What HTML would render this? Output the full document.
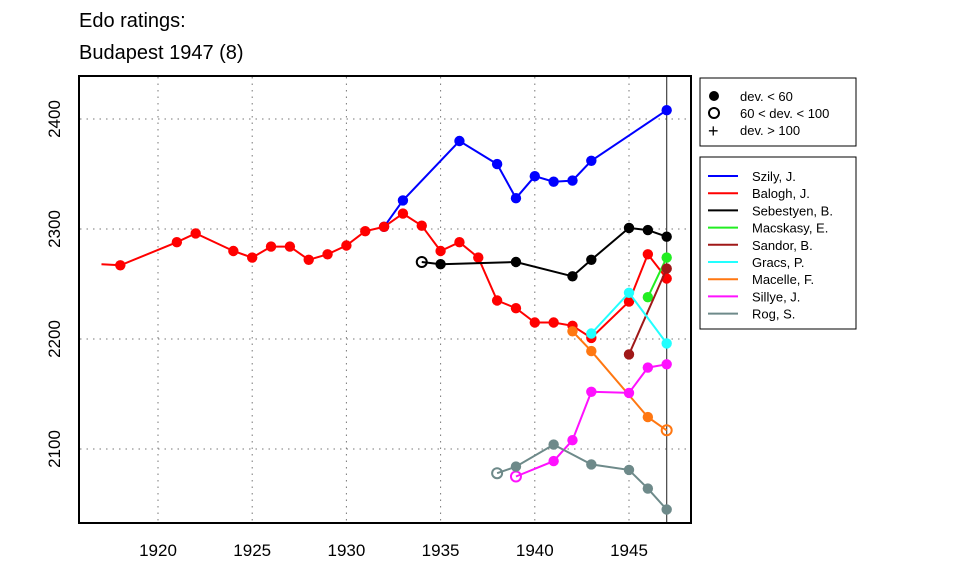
<!DOCTYPE html>
<html><head><meta charset="utf-8"><style>body{margin:0;background:#fff}svg{display:block}text{font-family:"Liberation Sans",sans-serif}</style></head>
<body>
<svg id="c" width="960" height="576">
<text x="79" y="27" font-size="20">Edo ratings:</text>
<text x="79" y="59" font-size="20">Budapest 1947 (8)</text>
<g id="grid"></g><g id="axes"></g><g id="series"></g>
<rect x="79" y="76" width="612" height="447" fill="none" stroke="#000" stroke-width="2"/>
<g>
<rect x="700" y="78" width="156" height="68" fill="#fff" stroke="#000"/>
<circle cx="714" cy="96" r="5" fill="#000"/><text x="740" y="101" font-size="13">dev. &lt; 60</text>
<circle cx="714" cy="113" r="5" fill="none" stroke="#000" stroke-width="2"/><text x="740" y="118" font-size="13">60 &lt; dev. &lt; 100</text>
<text x="708" y="137" font-size="18">+</text><text x="740" y="135" font-size="13">dev. &gt; 100</text>
</g>
<g id="legend"><rect x="700" y="157" width="156" height="172" fill="#fff" stroke="#000"/></g>
</svg>
<script>
const years=[1920,1925,1930,1935,1940,1945];
const yTicks=[2100,2200,2300,2400];
const names=["Szily, J.","Balogh, J.","Sebestyen, B.","Macskasy, E.","Sandor, B.","Gracs, P.","Macelle, F.","Sillye, J.","Rog, S."];
const colors=["#0000ff","#ff0000","#000000","#22ee22","#a01818","#22ffff","#ff7711","#ff11ff","#6e8a8a"];
const szilyX=[1932,1933,1936,1938,1939,1940,1941,1942,1943,1947];
const szilyY=[2302,2326,2380,2359,2328,2348,2343,2344,2362,2408];
const baloghX=[1917,1918,1921,1922,1924,1925,1926,1927,1928,1929,1930,1931,1932,1933,1934,1935,1936,1937,1938,1939,1940,1941,1942,1943,1945,1946,1947];
const baloghY=[2268,2267,2288,2296,2280,2274,2284,2284,2272,2277,2285,2298,2302,2314,2303,2280,2288,2274,2235,2228,2215,2215,2212,2201,2234,2277,2255];
const sebX=[1934,1935,1939,1942,1943,1945,1946,1947];
const sebY=[2270,2268,2270,2257,2272,2301,2299,2293];
const macsX=[1946,1947], macsY=[2238,2274];
const sandX=[1945,1947], sandY=[2186,2264];
const gracsX=[1943,1945,1947], gracsY=[2205,2242,2196];
const macelX=[1942,1943,1946,1947], macelY=[2207,2189,2129,2117];
const sillX=[1939,1941,1942,1943,1945,1946,1947], sillY=[2075,2089,2108,2152,2151,2174,2177];
const rogX=[1938,1939,1941,1943,1945,1946,1947], rogY=[2078,2084,2104,2086,2081,2064,2045];
const openPts=[[],[],[1934],[],[],[],[1947],[1939],[1938]];
const noMark=[[],[1917],[],[],[],[],[],[],[]];
const xs=[szilyX,baloghX,sebX,macsX,sandX,gracsX,macelX,sillX,rogX];
const ys=[szilyY,baloghY,sebY,macsY,sandY,gracsY,macelY,sillY,rogY];
const X=v=>158+(v-1920)*18.84, Y=v=>119+(2400-v)*1.1;
const NS="http://www.w3.org/2000/svg";
function mk(t,a,p){const e=document.createElementNS(NS,t);for(const k in a)e.setAttribute(k,a[k]);p.appendChild(e);return e;}
const g=document.getElementById('grid'),ax=document.getElementById('axes'),s=document.getElementById('series'),lg=document.getElementById('legend');
years.forEach(yr=>{const l=mk('line',{x1:X(yr),x2:X(yr),y1:77,y2:522,stroke:'#777','stroke-dasharray':'1.5 5'},g);


const t=mk('text',{x:X(yr),y:556,'font-size':17,'text-anchor':'middle'},ax);t.textContent=yr;

});
yTicks.forEach(v=>{const l=mk('line',{x1:80,x2:690,y1:Y(v),y2:Y(v),stroke:'#777','stroke-dasharray':'1.5 5'},g);


const t=mk('text',{x:0,y:0,'font-size':17,'text-anchor':'middle',transform:`translate(60,${Y(v)}) rotate(-90)`},ax);t.textContent=v;

});
const vl=mk('line',{x1:X(1947),x2:X(1947),y1:77,y2:522,stroke:'#444','stroke-width':1.2},g);


names.forEach((n,i)=>{const c=colors[i];
const grp=mk('g',{},s);


mk('polyline',{points:xs[i].map((x,j)=>X(x)+','+Y(ys[i][j])).join(' '),fill:'none',stroke:c,'stroke-width':2},grp);
xs[i].forEach((x,j)=>{if(noMark[i].includes(x))return;const o=openPts[i].includes(x);
const p=mk('circle',{cx:X(x),cy:Y(ys[i][j]),r:o?5:5.2,fill:o?'none':c,stroke:o?c:'none','stroke-width':2},grp);

});
const ly=176+i*17.2;
mk('line',{x1:708,x2:738,y1:ly,y2:ly,stroke:c,'stroke-width':2},lg);
const t=mk('text',{x:752,y:ly+5,'font-size':13},lg);t.textContent=n;

});
</script>
</body></html>
